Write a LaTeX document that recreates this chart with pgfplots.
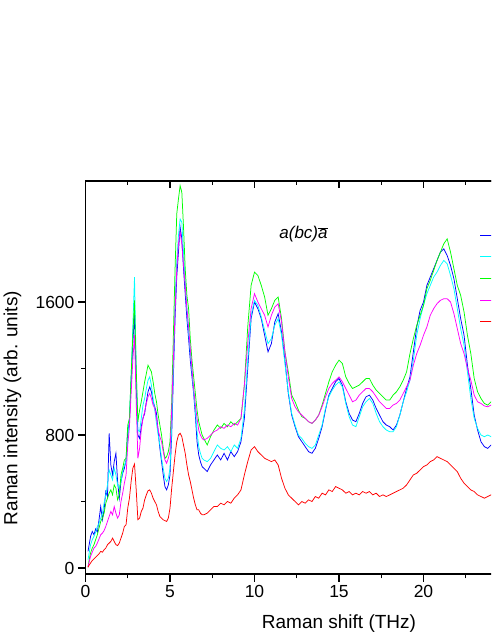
\documentclass[border=0pt]{standalone}
\usepackage{fontspec}
\setmainfont{Liberation Sans}
\usepackage{pgfplots}
\pgfplotsset{compat=1.18}
\usepackage{pgfplotstable}
\pgfplotstableread{
x b c g m r
0.15 100 50 5 5 5
0.2 130 80 40 30 15
0.3 190 140 90 70 30
0.4 220 170 120 95 45
0.5 200 190 140 120 55
0.6 235 215 170 130 65
0.7 215 250 200 150 75
0.8 290 270 240 175 85
0.9 370 300 280 200 100
1.0 290 330 300 210 95
1.1 350 390 330 225 110
1.2 460 440 390 250 120
1.3 430 500 420 280 140
1.4 810 590 450 310 150
1.5 620 560 470 340 160
1.6 560 530 440 320 180
1.7 640 600 500 370 160
1.8 690 560 480 330 140
1.9 520 500 410 300 135
2.0 420 480 440 320 150
2.1 520 520 560 400 180
2.2 570 580 600 450 210
2.3 600 620 650 510 250
2.4 650 640 660 560 260
2.5 820 760 860 740 360
2.6 880 900 900 850 420
2.7 1120 1150 1160 1050 520
2.8 1350 1450 1400 1250 600
2.9 1530 1750 1610 1400 625
3.0 1100 1200 1200 1000 470
3.1 800 830 880 660 290
3.2 780 820 950 720 300
3.3 850 900 1000 830 340
3.4 900 980 1060 900 360
3.5 930 1020 1120 940 410
3.6 1000 1080 1170 990 440
3.7 1060 1130 1220 1030 465
3.8 1090 1150 1200 1050 470
3.9 1060 1100 1180 1020 450
4.0 1000 1020 1120 980 420
4.1 970 950 1050 960 400
4.2 930 870 1000 900 380
4.3 820 800 920 830 340
4.4 720 740 860 790 310
4.5 640 660 800 760 300
4.6 560 600 720 700 290
4.7 490 540 660 650 285
4.8 470 520 670 630 280
4.9 500 540 700 660 300
5.0 560 600 760 700 360
5.1 800 850 1000 950 480
5.2 1150 1200 1400 1250 580
5.3 1500 1600 1800 1550 680
5.4 1750 1850 2130 1800 760
5.5 1900 2000 2220 1950 800
5.6 2050 2100 2300 2020 810
5.7 1980 2080 2260 1950 790
5.8 1800 1900 2050 1820 740
5.9 1650 1720 1800 1700 690
6.0 1500 1560 1640 1560 620
6.1 1380 1420 1560 1450 560
6.2 1250 1300 1380 1320 520
6.3 1150 1180 1250 1200 470
6.4 1050 1060 1150 1080 420
6.5 920 950 1050 980 380
6.6 760 820 950 900 350
6.7 680 730 880 830 350
6.8 640 690 840 800 330
6.9 610 660 800 780 320
7.0 600 650 780 770 320
7.2 580 640 740 780 330
7.4 620 660 790 800 350
7.6 650 700 830 820 370
7.8 680 740 860 830 370
8.0 650 720 840 850 390
8.2 690 710 870 840 380
8.4 650 730 850 860 400
8.6 700 700 880 850 390
8.8 670 740 860 870 420
9.0 700 720 880 860 440
9.2 760 780 900 900 470
9.4 900 950 1100 1100 560
9.6 1200 1250 1450 1350 640
9.8 1500 1520 1700 1560 710
10.0 1600 1610 1780 1650 730
10.2 1560 1580 1760 1600 700
10.4 1500 1510 1700 1560 680
10.6 1400 1430 1630 1520 660
10.8 1300 1350 1520 1450 650
11.0 1350 1380 1560 1520 640
11.2 1480 1460 1610 1570 650
11.4 1530 1500 1630 1590 620
11.6 1420 1400 1500 1480 540
11.8 1250 1230 1300 1300 480
12.0 1050 1060 1180 1150 440
12.2 920 930 1040 1020 420
12.4 850 860 1000 970 400
12.6 790 800 950 940 380
12.8 760 780 910 920 400
13.0 730 750 900 900 390
13.2 700 730 880 880 410
13.4 690 720 870 870 400
13.6 720 740 890 890 430
13.8 780 800 920 920 420
14.0 850 860 980 970 450
14.2 950 960 1050 1030 440
14.4 1040 1030 1120 1080 470
14.6 1080 1070 1180 1110 460
14.8 1120 1100 1220 1130 490
15.0 1140 1120 1250 1150 480
15.2 1100 1090 1230 1120 470
15.4 1000 990 1150 1080 450
15.6 930 910 1110 1040 460
15.8 890 860 1080 1000 440
16.0 880 850 1090 1010 450
16.2 930 910 1100 1040 440
16.4 990 970 1120 1060 460
16.6 1030 1000 1140 1080 450
16.8 1040 1020 1140 1080 460
17.0 1010 990 1100 1060 440
17.2 960 930 1070 1030 450
17.4 920 880 1050 1000 430
17.6 880 850 1030 980 440
17.8 860 830 1010 960 430
18.0 850 820 1010 960 440
18.2 830 820 1040 980 450
18.4 860 850 1060 990 460
18.6 920 920 1090 1010 470
18.8 1000 1000 1130 1050 480
19.0 1080 1060 1180 1090 500
19.2 1150 1130 1290 1130 530
19.4 1300 1250 1380 1220 560
19.6 1450 1400 1460 1290 570
19.8 1550 1500 1520 1340 590
20.0 1600 1580 1580 1400 610
20.2 1700 1650 1680 1450 620
20.4 1750 1700 1730 1520 640
20.6 1800 1750 1790 1560 650
20.8 1850 1780 1850 1590 670
21.0 1900 1820 1900 1610 660
21.2 1920 1850 1950 1620 650
21.4 1880 1830 1980 1620 640
21.6 1820 1760 1900 1600 620
21.8 1740 1680 1800 1530 600
22.0 1620 1560 1700 1440 580
22.2 1500 1440 1640 1350 540
22.4 1400 1340 1540 1290 510
22.6 1220 1180 1400 1200 490
22.8 1080 1020 1290 1130 470
23.0 920 900 1140 1040 460
23.2 830 840 1060 1000 440
23.4 760 800 1020 990 430
23.6 730 790 990 975 420
23.8 720 800 980 970 430
24.0 740 790 1000 980 440
24.2 730 800 990 970 430
}\data
\begin{document}
\begin{tikzpicture}
\useasboundingbox (0pt,0pt) rectangle (491pt,635pt);
\clip (0pt,0pt) rectangle (491pt,635pt);
\begin{axis}[
 at={(85.5pt,61pt)}, anchor=south west,
 scale only axis, width=507pt, height=393pt,
 xmin=0, xmax=30, ymin=-36, ymax=2328,
 axis line style={line width=1.5pt},
 tick style={line width=1.2pt, black},
 tick align=outside, xtick pos=bottom, ytick pos=left,
 xtick={0,5,...,30}, minor x tick num=1,
 xticklabels={0,5,10,15,20,{},{}},
 ytick={0,800,1600}, minor y tick num=1,
 major tick length=7.5pt, minor tick length=4.3pt,
 ticklabel style={font=\fontsize{17.5}{20}\selectfont},
 /pgf/number format/assume math mode=true,
 /pgf/number format/1000 sep={},
 xlabel={Raman shift (THz)}, ylabel={Raman intensity (arb. units)},
 label style={font=\fontsize{19}{22}\selectfont},
 xlabel style={at={(axis description cs:0.5,-0.125)}, anchor=center},
 ylabel style={at={(axis description cs:-0.144,0.422)}, anchor=center},
 legend style={at={(axis description cs:0.772,0.896)}, anchor=north west, draw=none, fill=none,
   font=\fontsize{17.5}{21}\selectfont, row sep=0pt,
   nodes={inner sep=0pt, text height=14pt, text depth=7.7pt}},
 legend cell align=left,
 every axis plot/.append style={line width=0.75pt},
]
\addplot[color={rgb,255:red,0;green,0;blue,255}] table[x=x,y=b] {\data};
\addplot[color={rgb,255:red,0;green,255;blue,255}] table[x=x,y=c] {\data};
\addplot[color={rgb,255:red,0;green,255;blue,0}] table[x=x,y=g] {\data};
\addplot[color={rgb,255:red,255;green,0;blue,255}] table[x=x,y=m] {\data};
\addplot[color={rgb,255:red,255;green,0;blue,0}] table[x=x,y=r] {\data};
\legend{\phantom{0},\phantom{0},\phantom{0},\phantom{0},\phantom{0}}
\node[font=\fontsize{17}{20}\selectfont] at (axis cs:12.9,2009) {\textit{a(bc)}$\overline{\mbox{\textit{a}}}$};
\end{axis}
\begin{axis}[
 at={(85.5pt,61pt)}, anchor=south west,
 scale only axis, width=507pt, height=393pt,
 xmin=0, xmax=30, ymin=-36, ymax=2328,
 axis x line*=top, axis y line=none, ytick=\empty,
 x axis line style={-, line width=1.5pt},
 tick style={line width=1.2pt, black},
 tick align=inside,
 xtick={0,5,...,30}, minor x tick num=1, xticklabels={},
 major tick length=7.5pt, minor tick length=4.3pt,
]
\addplot[draw=none] coordinates {(1,100)};
\end{axis}
\end{tikzpicture}
\end{document}
